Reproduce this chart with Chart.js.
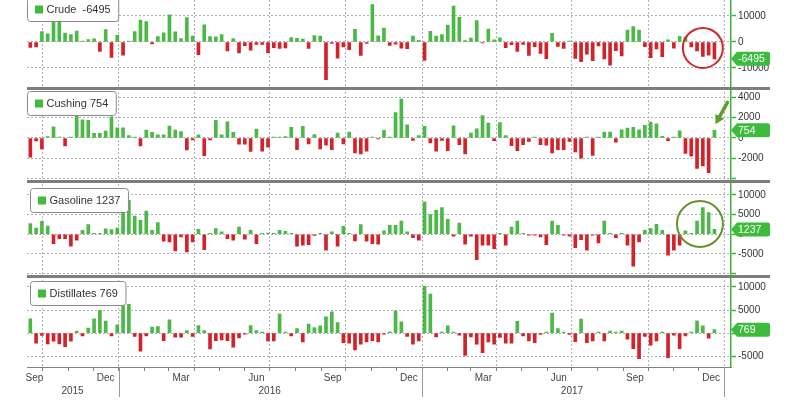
<!DOCTYPE html>
<html><head><meta charset="utf-8">
<script src="https://cdn.jsdelivr.net/npm/chart.js@4/dist/chart.umd.min.js"></script>
<style>html,body{margin:0;padding:0;background:#fff}#wrap{width:800px;height:400px}</style>
</head><body><div id="wrap"><canvas id="c" width="800" height="400"></canvas></div>
<script>
// ---------------- DATA (weekly changes, thousand barrels) ----------------
const firstReportDate = '2015-09-16';   // weekly EIA report dates (Wednesdays)
const crude = [-2100,-1900,4000,3100,7600,8000,3400,2800,4200,250,960,1200,-3600,4800,-5900,2600,-5100,230,4000,8400,7800,-750,2100,3500,10400,3900,1300,9400,2300,-4900,6600,2100,2000,2800,-3400,1300,-4200,-1400,-3200,-900,-900,-4100,-2200,-2500,-2300,1700,1400,1100,-2500,2500,2300,-14500,-560,-6200,-1900,-3000,4900,-5200,-550,14400,2400,5300,-1300,-880,-2400,-2600,2300,600,-7100,4100,2300,2800,6500,13800,9500,560,1500,8200,-240,4950,870,1600,-2200,-1000,-3600,-930,-5200,-1800,-4400,-6400,3300,-1700,-2500,100,-6300,-7600,-4700,-7200,-1500,-6500,-8900,-3300,-5400,4600,5900,4600,-1800,-6000,-2700,-5700,860,-2400,2200,1900,-1900,-3400,-5600,-5100,-6495];
const cushing = [-1900,-300,-1070,150,1100,100,-780,100,2180,1800,1750,450,450,680,2080,1000,1000,230,100,-780,780,550,300,300,1170,780,620,-1170,-200,300,-1750,-200,1750,300,1600,550,-620,-620,-1330,880,-1300,-900,100,100,150,1040,-1140,1140,-580,330,-1070,-720,-1140,490,-580,580,-1460,-1560,-1300,100,-100,750,50,2500,3840,1300,-230,230,1140,-490,-1300,-230,-1240,1200,-650,-1560,490,900,2200,1460,-260,1530,230,-750,-1240,-650,-330,50,-650,-720,-1460,-1140,-1140,-330,-1370,-2000,50,-1720,50,580,580,-420,810,975,1040,810,1240,1560,1400,160,-260,50,700,-1530,-1790,-2990,-2760,-3410,754];
const gasoline = [2700,1600,3300,2100,-2400,-1100,-1100,-3050,-1500,1000,2450,170,50,1400,1200,1600,10600,8640,4660,3560,5930,1000,2960,-1780,-1950,-4240,-680,-4490,-1950,1270,-3900,50,1440,600,-1100,-1500,1860,-1270,1000,-2400,200,300,150,1000,760,200,-3050,-2800,-2640,-300,200,-4060,600,-3050,2030,100,-1700,2450,-1780,-2370,-2540,850,2290,2290,3390,600,-850,-1520,8220,5000,6100,6780,3810,-500,2880,-2540,-500,-6440,-2800,-2800,-3640,50,-2800,1860,3390,50,-50,-100,-680,-2630,3390,2290,-250,-500,-3390,-1360,-4070,-250,-2200,3390,50,-850,50,-2800,-8130,-1950,1020,1440,2540,1020,-5340,-4070,-2800,850,100,3390,6780,5500,1237];
const distillates = [3120,-2180,-500,-2320,-1740,-2320,-2900,-1740,430,-580,1090,3120,4930,2610,-580,1810,6020,6240,-725,-3920,-580,1300,1450,-1600,2900,-870,-870,580,-725,1670,580,-3410,-1600,-1450,-1600,-3050,-1020,-200,1670,580,50,-1670,-1670,4130,100,-580,1010,-1880,1960,1230,1590,3550,4640,2320,-2030,-2170,-3620,-2390,-1880,-1600,-1880,-100,300,4860,2470,-725,-2390,-1670,10150,8480,-800,50,1590,50,-435,-4790,-800,-2390,-4200,-1880,-2390,-940,-2170,-2170,2540,-580,-1670,-2030,-290,50,4350,1010,200,-290,-1810,3050,-2030,-1670,50,-1670,430,50,430,-1300,-3330,-5510,-725,-2610,-1670,200,-5290,-435,-3330,-580,100,2680,1590,-1090,769];

const panelNames = ['Crude', 'Cushing', 'Gasoline', 'Distillates'];

// y-axis ticks and their labels
const crudeTicks = [-10000, 0, 10000];
const crudeTickLabels = ['-10000', '0', '10000'];
const cushingTicks = [-4000, -2000, 0, 2000, 4000];
const cushingTickLabels = ['', '-2000', '0', '2000', '4000'];
const gasolineTicks = [-10000, -5000, 0, 5000, 10000];
const gasolineTickLabels = ['', '-5000', '0', '5000', '10000'];
const distillatesTicks = [-5000, 0, 5000, 10000];
const distillatesTickLabels = ['-5000', '0', '5000', '10000'];

// x-axis: quarter gridlines, month tick marks, month & year labels
const quarterStarts = ['2015-10-01','2016-01-01','2016-04-01','2016-07-01','2016-10-01','2017-01-01','2017-04-01','2017-07-01','2017-10-01','2018-01-01'];
const monthLabelText = ['Sep','Dec','Mar','Jun','Sep','Dec','Mar','Jun','Sep','Dec'];
const monthLabelDates = ['2015-09-21','2015-12-16','2016-03-16','2016-06-15','2016-09-15','2016-12-16','2017-03-16','2017-06-15','2017-09-15','2017-12-16'];
const yearLabelText = ['2015','2016','2017'];
const yearLabelDates = ['2015-11-06','2016-07-01','2017-07-01'];
const yearStarts = ['2016-01-01','2017-01-01','2018-01-01'];
const axisStart = '2015-09-12', axisEnd = '2018-01-09';

// ---------------- helpers ----------------
const DAY = 86400000;
const dnum = s => { const [y,m,d] = s.split('-').map(Number); return Date.UTC(y, m-1, d) / DAY; };
const firstDay = dnum(firstReportDate);
const reportDays = crude.map((_, i) => firstDay + 7 * i);   // weekly report dates
const monthStarts = [];
for (let y = 2015, m = 9; y < 2018 || (y === 2018 && m === 0); ) { // Oct 2015 .. Jan 2018
  monthStarts.push(Date.UTC(y, m, 1) / DAY);
  m++; if (m === 12) { m = 0; y++; }
}

const GREEN = '#4cb847', RED = '#d2232a', AXIS_GREEN = '#3cb43c', TAG_GREEN = '#3dbb3d';
const FONT = "'Liberation Sans', Arial, sans-serif";

const panels = [
  { axis: 'yCrude', data: crude, min: -17900, max: 16150, weight: 88.5, ticks: crudeTicks, labels: crudeTickLabels, lx: 0, ly: -3 },
  { axis: 'yCushing', data: cushing, min: -4290, max: 4880, weight: 93, ticks: cushingTicks, labels: cushingTickLabels, lx: 0, ly: 2.5 },
  { axis: 'yGasoline', data: gasoline, min: -10740, max: 13430, weight: 95, ticks: gasolineTicks, labels: gasolineTickLabels, lx: 3, ly: 6.5 },
  { axis: 'yDistillates', data: distillates, min: -7320, max: 12270, weight: 90.5, ticks: distillatesTicks, labels: distillatesTickLabels, lx: 3, ly: 4.5 },
];

function noPad(s) { s.paddingTop = 0; s.paddingBottom = 0; s.paddingLeft = 0; s.paddingRight = 0; }

function yAxis(p) {
  return {
    type: 'linear', position: 'right', stack: 'panels', stackWeight: p.weight,
    min: p.min, max: p.max,
    afterBuildTicks: s => { s.ticks = p.ticks.map(v => ({ value: v })); },
    afterFit: s => { s.width = 69; noPad(s); },
    ticks: { autoSkip: false, padding: 2, color: '#333', font: { size: 10, family: FONT },
             callback: (v, i) => p.labels[i] },
    grid: { color: '#b0b0b0', lineWidth: 1, tickColor: AXIS_GREEN, tickLength: 5, tickWidth: 1.5, tickBorderDash: [] },
    border: { display: true, color: AXIS_GREEN, width: 1.5, dash: [2, 2] },
  };
}

const xBase = { type: 'linear', position: 'bottom', min: dnum(axisStart), max: dnum(axisEnd), offset: false };
const scales = {
  x: Object.assign({}, xBase, {
    afterBuildTicks: s => { s.ticks = quarterStarts.map(d => ({ value: dnum(d) })); },
    afterFit: s => { s.height = 0; noPad(s); },
    ticks: { display: false },
    grid: { offset: false, color: '#b0b0b0', drawTicks: false, tickLength: 0 },
    border: { display: true, color: '#808080', width: 1, dash: [2, 2] },
  }),
  xm: Object.assign({}, xBase, {
    afterBuildTicks: s => { s.ticks = monthStarts.map(v => ({ value: v })); },
    afterFit: s => { s.height = 4; noPad(s); },
    ticks: { display: false },
    grid: { offset: false, drawOnChartArea: false, color: '#808080', tickLength: 4 },
    border: { display: false },
  }),
  xl: Object.assign({}, xBase, {
    afterBuildTicks: s => { s.ticks = monthLabelDates.map(d => ({ value: dnum(d) })); },
    afterFit: s => { s.height = 13; noPad(s); },
    ticks: { autoSkip: false, maxRotation: 0, padding: 1, color: '#444', font: { size: 10, family: FONT },
             callback: (v, i) => monthLabelText[i] },
    grid: { display: false, drawTicks: false, tickLength: 0 },
    border: { display: false },
  }),
  xy: Object.assign({}, xBase, {
    afterBuildTicks: s => { s.ticks = yearLabelDates.map(d => ({ value: dnum(d) })); },
    afterFit: s => { s.height = 16; noPad(s); },
    ticks: { autoSkip: false, maxRotation: 0, padding: 1, color: '#444', font: { size: 10, family: FONT },
             callback: (v, i) => yearLabelText[i] },
    grid: { display: false, drawTicks: false, tickLength: 0 },
    border: { display: false },
  }),
};
panels.forEach(p => { scales[p.axis] = yAxis(p); });

const datasets = panels.map((p, k) => ({
  label: panelNames[k],
  yAxisID: p.axis,
  xAxisID: 'x',
  data: p.data.map((v, i) => ({ x: reportDays[i], y: v })),
  backgroundColor: c => (c.raw && c.raw.y < 0 ? RED : GREEN),
  barThickness: 3,
  grouped: false,
  minBarLength: 1,
}));

function roundRect(ctx, x, y, w, h, r) {
  ctx.beginPath();
  ctx.moveTo(x + r, y); ctx.lineTo(x + w - r, y); ctx.quadraticCurveTo(x + w, y, x + w, y + r);
  ctx.lineTo(x + w, y + h - r); ctx.quadraticCurveTo(x + w, y + h, x + w - r, y + h);
  ctx.lineTo(x + r, y + h); ctx.quadraticCurveTo(x, y + h, x, y + h - r);
  ctx.lineTo(x, y + r); ctx.quadraticCurveTo(x, y, x + r, y); ctx.closePath();
}

const decor = {
  id: 'decor',
  afterDraw(chart) {
    const ctx = chart.ctx, ca = chart.chartArea, xs = chart.scales.x;
    const rightEdge = ca.right + 39;
    ctx.save();
    // panel separators
    panels.forEach((p, k) => {
      if (k === panels.length - 1) return;
      const sc = chart.scales[p.axis];
      ctx.fillStyle = '#7d7d7d';
      ctx.fillRect(ca.left, sc.bottom - 1.5, rightEdge - ca.left, 3);
    });
    // year separators on the time axis
    ctx.strokeStyle = '#9a9a9a'; ctx.lineWidth = 1;
    yearStarts.forEach(d => {
      const x = Math.round(xs.getPixelForValue(dnum(d))) + 0.5;
      ctx.beginPath(); ctx.moveTo(x, ca.bottom); ctx.lineTo(x, 397); ctx.stroke();
    });
    // legend boxes and value tags
    panels.forEach((p, k) => {
      const sc = chart.scales[p.axis];
      const last = p.data[p.data.length - 1];
      const txt = panelNames[k] + (last < 0 ? '  ' : ' ') + last;
      ctx.font = '11px ' + FONT;
      const tw = ctx.measureText(txt).width;
      const bx = ca.left + p.lx + 0.5, by = sc.top + p.ly + 0.5, bw = tw + 27, bh = 24;
      roundRect(ctx, bx, by, bw, bh, 3);
      ctx.fillStyle = '#fff'; ctx.fill();
      ctx.strokeStyle = '#8a8a8a'; ctx.lineWidth = 1; ctx.stroke();
      ctx.fillStyle = TAG_GREEN; ctx.fillRect(bx + 7.5, by + 8, 8, 8);
      ctx.fillStyle = '#333'; ctx.textBaseline = 'middle'; ctx.textAlign = 'left';
      ctx.fillText(txt, bx + 19, by + bh / 2 + 0.5);
      // value tag on the axis
      const y = sc.getPixelForValue(last);
      ctx.beginPath();
      ctx.moveTo(ca.right, y); ctx.lineTo(ca.right + 6, y - 7); ctx.lineTo(rightEdge - 2, y - 7);
      ctx.quadraticCurveTo(rightEdge, y - 7, rightEdge, y - 5); ctx.lineTo(rightEdge, y + 5);
      ctx.quadraticCurveTo(rightEdge, y + 7, rightEdge - 2, y + 7); ctx.lineTo(ca.right + 6, y + 7); ctx.closePath();
      ctx.fillStyle = TAG_GREEN; ctx.fill();
      ctx.fillStyle = '#fff'; ctx.font = '10.5px ' + FONT;
      ctx.fillText(String(last), ca.right + 7, y + 0.5);
    });
    // highlight circles
    const yc = chart.scales.yCrude, yg = chart.scales.yGasoline, yk = chart.scales.yCushing;
    const n = crude.length;
    ctx.lineWidth = 2;
    ctx.strokeStyle = '#d0262b';
    ctx.beginPath();
    ctx.arc(xs.getPixelForValue(reportDays[n - 3]), yc.getPixelForValue(-2300), 20, 0, Math.PI * 2); ctx.stroke();
    ctx.strokeStyle = '#64912c';
    ctx.beginPath();
    ctx.arc(xs.getPixelForValue((reportDays[n - 4] + reportDays[n - 3]) / 2), yg.getPixelForValue(2620), 23, 0, Math.PI * 2); ctx.stroke();
    // arrow pointing at last Cushing bar
    const tipX = xs.getPixelForValue(reportDays[n - 1]) + 1;
    const tipY = yk.getPixelForValue(cushing[n - 1]) - 6;
    const tailX = tipX + 12, tailY = tipY - 22;
    const ang = Math.atan2(tipY - tailY, tipX - tailX);
    ctx.strokeStyle = '#5f9b2d'; ctx.fillStyle = '#5f9b2d'; ctx.lineWidth = 3.5; ctx.lineCap = 'round';
    ctx.beginPath(); ctx.moveTo(tailX, tailY); ctx.lineTo(tipX - 5 * Math.cos(ang), tipY - 5 * Math.sin(ang)); ctx.stroke();
    ctx.beginPath();
    ctx.moveTo(tipX, tipY);
    ctx.lineTo(tipX - 9 * Math.cos(ang) + 5 * Math.sin(ang), tipY - 9 * Math.sin(ang) - 5 * Math.cos(ang));
    ctx.lineTo(tipX - 9 * Math.cos(ang) - 5 * Math.sin(ang), tipY - 9 * Math.sin(ang) + 5 * Math.cos(ang));
    ctx.closePath(); ctx.fill();
    ctx.restore();
  }
};

new Chart(document.getElementById('c'), {
  type: 'bar',
  data: { datasets },
  options: {
    responsive: false, animation: false, devicePixelRatio: 1,
    layout: { padding: { left: 27, right: 0, top: 0, bottom: 0 } },
    plugins: { legend: { display: false }, tooltip: { enabled: false } },
    scales,
  },
  plugins: [decor],
});
</script></body></html>
